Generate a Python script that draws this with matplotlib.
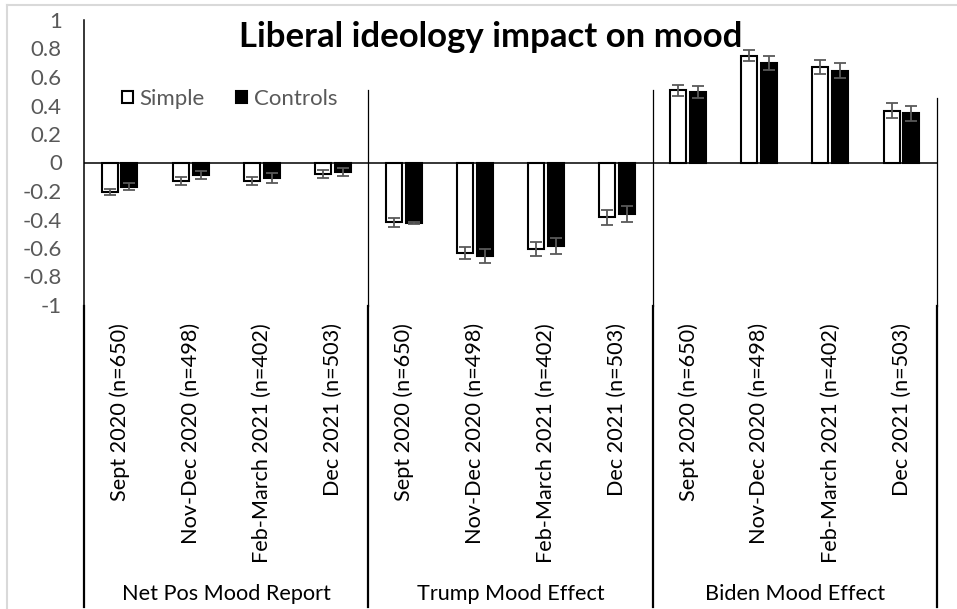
import numpy as np
import matplotlib
matplotlib.use("Agg")
import matplotlib.pyplot as plt
import matplotlib.transforms as mtransforms
from matplotlib.patches import Patch
from matplotlib.lines import Line2D

plt.rcParams['font.family'] = ['Lato', 'DejaVu Sans']

# ---- data ----
groups = ["Net Pos Mood Report", "Trump Mood Effect", "Biden Mood Effect"]
periods = ["Sept 2020 (n=650)", "Nov-Dec 2020 (n=498)",
           "Feb-March 2021 (n=402)", "Dec 2021 (n=503)"]
series_names = ["Simple", "Controls"]
simple = [-0.205, -0.13, -0.13, -0.08,
          -0.42, -0.635, -0.607, -0.385,
          0.506, 0.75, 0.671, 0.364]
controls = [-0.17, -0.088, -0.11, -0.065,
            -0.425, -0.655, -0.585, -0.36,
            0.497, 0.70, 0.645, 0.345]
simple_err = [0.021, 0.03, 0.031, 0.029,
              0.033, 0.043, 0.049, 0.054,
              0.037, 0.041, 0.048, 0.052]
controls_err = [0.026, 0.029, 0.035, 0.029,
                0.004, 0.047, 0.055, 0.055,
                0.042, 0.048, 0.055, 0.052]
yticks = [1, 0.8, 0.6, 0.4, 0.2, 0, -0.2, -0.4, -0.6, -0.8, -1]
ytick_labels = ["1", "0.8", "0.6", "0.4", "0.2", "0", "-0.2", "-0.4", "-0.6", "-0.8", "-1"]
title = "Liberal ideology impact on mood"

W, H = 957, 609
fig = plt.figure(figsize=(W / 100, H / 100), dpi=100)

def fx(px):
    return px / W

def fy(py):
    return 1 - py / H

x_left, x_right = 84, 937
y_top, y_bot = 20, 305
ax = fig.add_axes([fx(x_left), fy(y_bot), fx(x_right) - fx(x_left), fy(y_top) - fy(y_bot)])

n = len(simple)
xs = np.arange(n)
labels = periods * len(groups)
bw = 0.225
off = 0.14
gray = "#595959"

ax.bar(xs - off, simple, bw, facecolor="white", edgecolor="black", linewidth=1.5, zorder=3)
ax.bar(xs + off, controls, bw, facecolor="black", edgecolor="black", linewidth=1.5, zorder=3)
ax.errorbar(xs - off, simple, yerr=simple_err, fmt="none", ecolor=gray,
            elinewidth=1.3, capsize=4, capthick=1.3, zorder=4)
ax.errorbar(xs + off, controls, yerr=controls_err, fmt="none", ecolor=gray,
            elinewidth=1.3, capsize=4, capthick=1.3, zorder=4)

ax.set_xlim(-0.5, n - 0.5)
ax.set_ylim(-1, 1)
ax.axhline(0, color="black", linewidth=1.1, zorder=5)

for s in ax.spines.values():
    s.set_visible(False)

ax.set_yticks(yticks)
ax.set_yticklabels(ytick_labels)
ax.tick_params(axis="y", length=0, pad=16, labelsize=16, labelcolor=gray)
ax.set_xticks(xs)
ax.set_xticklabels(labels, rotation=90, va="top", ha="center")
ax.tick_params(axis="x", length=0, pad=13, labelsize=15.6, labelcolor="black")

# vertical lines (axis + group separators)
bt = mtransforms.blended_transform_factory(ax.transData, fig.transFigure)
bottom_f = fy(607)
below_f = fy(306)
ax.add_line(Line2D([-0.5, -0.5], [fy(y_top), bottom_f], transform=bt, color="black",
                   linewidth=1.1, clip_on=False))
ax.add_line(Line2D([-0.5, -0.5], [below_f, bottom_f], transform=bt, color="black",
                   linewidth=1.6, clip_on=False))
for xb, ytop_px in [(3.5, 90), (7.5, 90), (11.5, 98)]:
    ax.add_line(Line2D([xb, xb], [fy(ytop_px), below_f], transform=bt, color="black",
                       linewidth=0.9, clip_on=False))
    ax.add_line(Line2D([xb, xb], [below_f, bottom_f], transform=bt, color="black",
                       linewidth=1.6, clip_on=False))

# group labels
for gi, g in enumerate(groups):
    ax.text(gi * 4 + 1.5, fy(594), g, transform=bt, ha="center", va="center",
            fontsize=15.6, color="black")

# title
fig.text(fx(491), fy(37), title, ha="center", va="center", fontsize=25,
         fontweight="bold", color="black")

# legend
handles = [Patch(facecolor="white", edgecolor="black", linewidth=1.5),
           Patch(facecolor="black", edgecolor="black", linewidth=1.5)]
leg = fig.legend(handles, series_names, loc="center left",
                 bbox_to_anchor=(fx(122), fy(99)), frameon=False, ncol=2,
                 fontsize=16, handlelength=0.5, handleheight=0.5,
                 handletextpad=0.3, columnspacing=1.4, borderpad=0, borderaxespad=0)
for t in leg.get_texts():
    t.set_color(gray)

# light border of the image
fig.add_artist(Line2D([fx(7), 1], [fy(5), fy(5)], transform=fig.transFigure,
                      color="#d9d9d9", linewidth=1.5))
fig.add_artist(Line2D([fx(7), fx(7)], [fy(5), 0], transform=fig.transFigure,
                      color="#d9d9d9", linewidth=1.5))

fig.savefig("out.png", dpi=100, facecolor="white")
